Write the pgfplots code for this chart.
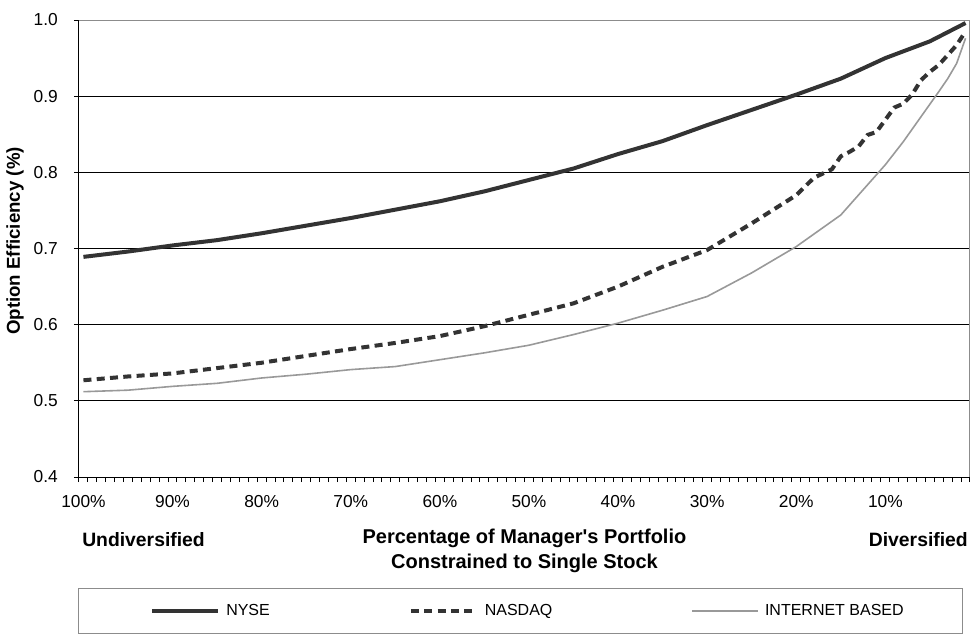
\documentclass[border=0pt]{standalone}
\usepackage{fontspec}
\setmainfont{Liberation Sans}
\usepackage{pgfplots}
\pgfplotsset{compat=1.18}
\definecolor{darkline}{HTML}{333333}
\definecolor{lightline}{HTML}{999999}
\definecolor{framegray}{HTML}{8C8C8C}
\begin{document}
\begin{tikzpicture}
\begin{axis}[
  name=main,
  at={(0,0)}, anchor=south west,
  scale only axis,
  clip mode=individual,
  width=668.25pt, height=342.75pt,
  x dir=reverse,
  xmin=0.5, xmax=100.5,
  ymin=0.4, ymax=1.0,
  axis x line*=bottom, axis y line*=left,
  axis line style={-, black, line width=0.75pt},
  xtick={0.5,1.5,...,100.5},
  xticklabels={},
  extra x ticks={100,90,80,70,60,50,40,30,20,10},
  extra x tick labels={100\%,90\%,80\%,70\%,60\%,50\%,40\%,30\%,20\%,10\%},
  extra x tick style={major tick length=0pt, grid=none,
     xticklabel style={anchor=center, yshift=-18.75pt, inner sep=0pt}},
  ytick={0.4,0.5,...,1.0},
  yticklabel={\pgfmathprintnumber[fixed,fixed zerofill,precision=1]{\tick}},
  yticklabel style={anchor=east, inner sep=0pt, xshift=-12pt},
  /pgf/number format/assume math mode=true,
  ticklabel style={font=\fontsize{13}{15}\selectfont},
  tick align=outside,
  major tick length=3.75pt,
  tick style={black, line width=0.75pt},
  ymajorgrids,
  grid style={black, line width=0.75pt},
  every axis y label/.style={at={(axis description cs:-0.0718,0.5164)}, anchor=center, rotate=90,
     font=\bfseries\fontsize{14}{17}\selectfont},
  ylabel={Option Efficiency (\%)},
  every axis x label/.style={at={(axis description cs:0.5,-0.1608)}, anchor=center, align=center,
     font=\bfseries\fontsize{15}{18.75}\selectfont},
  xlabel={Percentage of Manager\textquotesingle s Portfolio\\Constrained to Single Stock},
  legend columns=3,
  legend style={draw=none, fill=none, inner sep=0pt, anchor=west,
     at={(axis description cs:0.0797,-0.2932)},
     nodes={inner sep=0pt, font=\fontsize{12}{14}\selectfont},
     /tikz/every odd column/.style={column sep=4.5pt},
     /tikz/every even column/.style={column sep=104.25pt}},
  legend image code/.code={\draw[#1] (0pt,0pt) -- (49.5pt,0pt);},
]
\addplot[darkline, line width=3pt, line join=round] coordinates {
(100,0.689) (95,0.696) (90,0.704) (85,0.711) (80,0.720) (75,0.730) (70,0.740)
(65,0.751) (60,0.762) (55,0.775) (50,0.790) (45,0.805) (40,0.824) (35,0.841)
(30,0.862) (25,0.882) (20,0.902) (15,0.923) (10,0.950) (5,0.972) (1,0.996)};
\addlegendentry{NYSE}
\addplot[darkline, line width=3pt, dash pattern=on 6pt off 4pt] coordinates {
(100,0.527) (95,0.532) (90,0.536) (85,0.543) (80,0.550) (75,0.559) (70,0.568)
(65,0.576) (60,0.585) (55,0.598) (50,0.613) (45,0.628) (40,0.650) (35,0.676)
(30,0.698) (25,0.733) (20,0.770) (18,0.793) (16,0.804) (15,0.821) (14,0.827)
(13,0.834) (12,0.849) (11,0.853) (10,0.869) (9,0.885) (8,0.890) (7,0.902)
(6,0.921) (5,0.932) (4,0.941) (3,0.954) (2,0.967) (1,0.985)};
\addlegendentry{NASDAQ}
\addplot[lightline, line width=1.2pt] coordinates {
(100,0.512) (95,0.514) (90,0.519) (85,0.523) (80,0.530) (75,0.535) (70,0.541)
(65,0.545) (60,0.554) (55,0.563) (50,0.573) (45,0.587) (40,0.602) (35,0.619)
(30,0.637) (25,0.668) (20,0.7025) (15,0.744) (10,0.810) (8,0.840) (6,0.873)
(4,0.906) (3,0.923) (2,0.943) (1,0.976)};
\addlegendentry{INTERNET BASED}
\draw[framegray, line width=0.75pt] (rel axis cs:0,1) -- (rel axis cs:1,1) -- (rel axis cs:1,0);
\node[anchor=west, inner sep=0pt, font=\bfseries\fontsize{14.5}{17}\selectfont]
  at (axis description cs:0.0034,-0.1379) {Undiversified};
\node[anchor=east, inner sep=0pt, font=\bfseries\fontsize{14.5}{17}\selectfont]
  at (axis description cs:0.9978,-0.1379) {Diversified};
\draw[framegray, line width=0.75pt] (axis description cs:0,-0.2429) rectangle (axis description cs:0.9921,-0.3435);
\end{axis}
\pgfresetboundingbox
\path (-59.25pt,-118.5pt) rectangle (671.25pt,357.75pt);
\end{tikzpicture}
\end{document}
